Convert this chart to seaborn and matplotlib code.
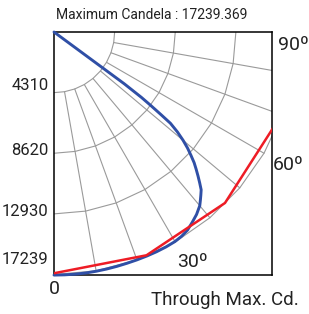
import numpy as np
import pandas as pd
import matplotlib
matplotlib.use('Agg')
import matplotlib.pyplot as plt
import seaborn as sns

# values (angles in degrees from nadir, candela)
max_cd = 17239
ring_values = [4310, 8620, 12930, 17239]
ring_labels = ['4310', '8620', '12930', '17239']
grid_angles = [0, 10, 20, 30, 40, 50, 60, 70, 80, 90]

blue_angles = [0, 2.5, 5, 7.5, 10, 12.5, 15, 17.5, 20, 22.5, 25, 27.5, 30, 32, 34, 36, 38,
               40, 41, 42, 43, 44, 45, 46, 47, 48, 49, 50, 51, 51.9, 52.3, 52.8, 53.2,
               53.6, 53.8]
blue_cd = [17280, 17280, 17280, 17280, 17270, 17260, 17250, 17240, 17239, 17239, 17239,
           17230, 17200, 17120, 16980, 16720, 16460,
           16120, 15860, 15600, 15340, 14910, 14480, 14050, 13620, 13100,
           12580, 11980, 11290, 10520, 9650, 8620, 7760, 6210, 0]

red_angles = [0, 22.5, 45, 67.5, 90]
red_cd = [17150, 17180, 17190, 17060, 16900]

sns.set_style('white')
plt.rcParams['font.family'] = ['Roboto', 'DejaVu Sans']


def to_xy(angles, cd):
    a = np.radians(angles)
    cd = np.asarray(cd, dtype=float)
    return cd * np.sin(a), cd * np.cos(a)


fig = plt.figure(figsize=(3.09, 3.14), dpi=100)
W, H = 309, 314
ax = fig.add_axes([54 / W, 1 - 274.5 / H, 218 / W, 242.5 / H])

# grid: rings drawn through the 10 degree points, spokes from the first ring out
for r in ring_values:
    gx, gy = to_xy(grid_angles, [r] * len(grid_angles))
    ax.plot(gx, gy, color='#9a9a9a', lw=0.8, zorder=1)
for a in grid_angles[1:-1]:
    gx, gy = to_xy([a, a], [ring_values[0], max_cd])
    ax.plot(gx, gy, color='#9a9a9a', lw=0.8, zorder=1)

bx, by = to_xy(blue_angles, blue_cd)
rx, ry = to_xy(red_angles, red_cd)
blue = pd.DataFrame({'x': bx, 'y': by})
red = pd.DataFrame({'x': rx, 'y': ry})

sns.lineplot(data=blue, x='x', y='y', sort=False, estimator=None, color='#2f4fa6',
             lw=2.1, ax=ax, zorder=3, clip_on=False)
sns.lineplot(data=red, x='x', y='y', sort=False, estimator=None, color='#ee1c25',
             lw=1.8, ax=ax, zorder=4)

ax.set_xlim(0, max_cd * 218 / 242.5)
ax.set_ylim(max_cd, 0)
ax.set_xticks([])
ax.set_yticks([])
ax.set_xlabel('')
ax.set_ylabel('')
for s in ax.spines.values():
    s.set_color('black')
    s.set_linewidth(1.1)

# intensity labels along the left edge
label_shift = [5, 2, 2, 11]
for v, lab, dy in zip(ring_values, ring_labels, label_shift):
    ax.annotate(lab, xy=(0, v), xytext=(-4, dy), textcoords='offset points',
                ha='right', va='center', fontsize=12, color='#222222')

fig.text(152 / W, 1 - 15 / H, 'Maximum Candela : 17239.369', ha='center', va='center',
         fontsize=10, color='#222222')
fig.text(293 / W, 1 - 45 / H, '90º', ha='center', va='center', fontsize=14, color='#222222')
fig.text(288 / W, 1 - 165 / H, '60º', ha='center', va='center', fontsize=14, color='#222222')
fig.text(192 / W, 1 - 262 / H, '30º', ha='center', va='center', fontsize=14, color='#222222')
fig.text(54 / W, 1 - 289 / H, '0', ha='center', va='center', fontsize=14, color='#222222')
fig.text(225 / W, 1 - 300 / H, 'Through Max. Cd.', ha='center', va='center',
         fontsize=13.5, color='#222222')

fig.savefig('out.png', dpi=100)
